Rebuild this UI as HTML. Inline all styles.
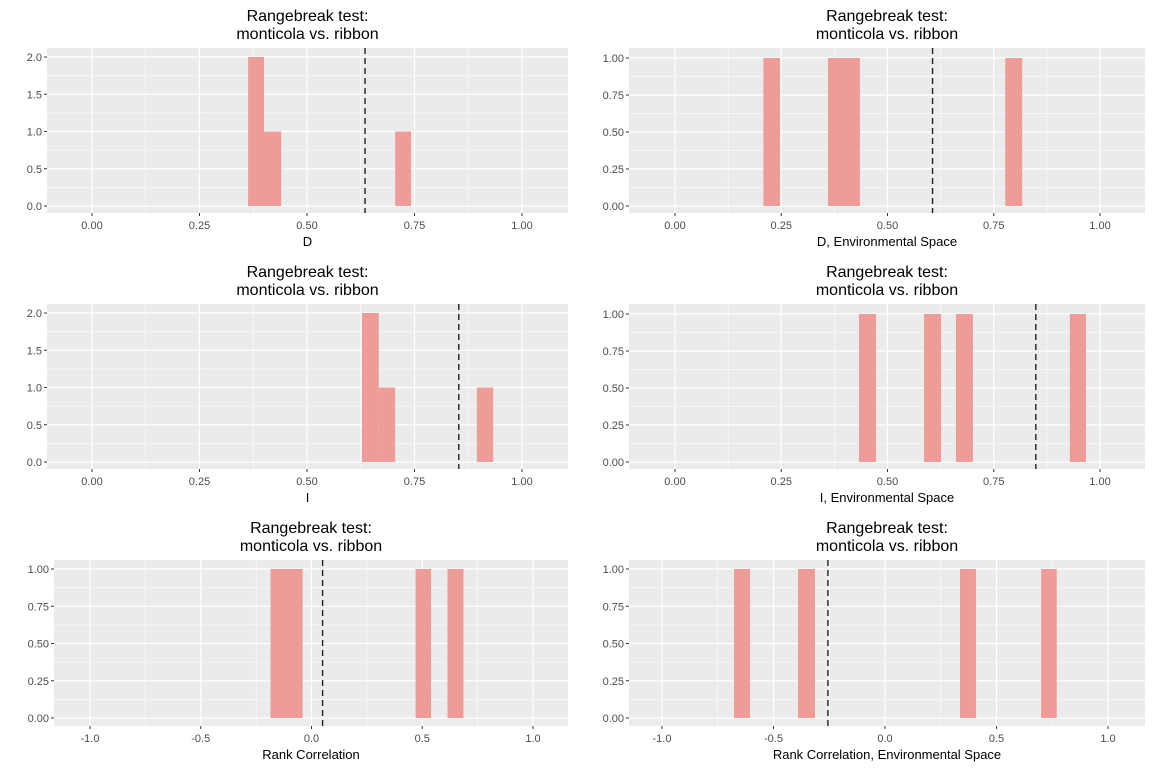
<!DOCTYPE html>
<html><head><meta charset="utf-8"><style>
body{margin:0;background:#fff;width:1152px;height:768px;overflow:hidden}
svg{font-family:"Liberation Sans",sans-serif}
</style></head><body>
<svg id="c" width="1152" height="768"></svg>
<script>
// Panel data: bin start, bin end, count
const p1Start=[0.363,0.400,0.705]; const p1End=[0.400,0.440,0.742]; const p1Count=[2,1,1]; const p1Obs=0.635;
const p2Start=[0.208,0.360,0.777]; const p2End=[0.247,0.435,0.817]; const p2Count=[1,1,1]; const p2Obs=0.606;
const p3Start=[0.628,0.667,0.895]; const p3End=[0.667,0.705,0.933]; const p3Count=[2,1,1]; const p3Obs=0.853;
const p4Start=[0.433,0.586,0.661,0.929]; const p4End=[0.473,0.626,0.701,0.967]; const p4Count=[1,1,1,1]; const p4Obs=0.849;
const p5Start=[-0.185,0.47,0.614]; const p5End=[-0.04,0.54,0.686]; const p5Count=[1,1,1]; const p5Obs=0.05;
const p6Start=[-0.677,-0.39,0.336,0.70]; const p6End=[-0.605,-0.314,0.408,0.77]; const p6Count=[1,1,1,1]; const p6Obs=-0.256;
const ticks01=[0,0.25,0.5,0.75,1]; const ticks01Lab=["0.00","0.25","0.50","0.75","1.00"];
const ticksR=[-1,-0.5,0,0.5,1]; const ticksRLab=["-1.0","-0.5","0.0","0.5","1.0"];
const yT2=[0,0.5,1,1.5,2]; const yT2Lab=["0.0","0.5","1.0","1.5","2.0"];
const yT1=[0,0.25,0.5,0.75,1]; const yT1Lab=["0.00","0.25","0.50","0.75","1.00"];

const svg=document.getElementById('c');const NS="http://www.w3.org/2000/svg";
function mk(t,a,p){const e=document.createElementNS(NS,t);for(const k in a)e.setAttribute(k,a[k]);(p||svg).appendChild(e);return e;}
function panel(id,box,xt,xl,x0px,x1px,x0v,x1v,yt,yl,ymax,y0px,ymaxpx,st,en,ct,obs,xtitle){
 const g=mk('g',{});
 
 
 const [L,T,R,B]=box;
 const sx=v=>x0px+(v-x0v)*(x1px-x0px)/(x1v-x0v);
 const sy=v=>y0px-(v/ymax)*(y0px-ymaxpx);
 const bg=mk('rect',{x:L,y:T,width:R-L,height:B-T,fill:'#EBEBEB'},g);
 
 for(let i=0;i<xt.length-1;i++){const m=sx((xt[i]+xt[i+1])/2);mk('line',{x1:m,x2:m,y1:T,y2:B,stroke:'#fff','stroke-width':0.6},g);}
 mk('line',{x1:sx(xt[0]-(xt[1]-xt[0])/2),x2:sx(xt[0]-(xt[1]-xt[0])/2),y1:T,y2:B,stroke:'#fff','stroke-width':0.6},g);
 mk('line',{x1:sx(xt[xt.length-1]+(xt[1]-xt[0])/2),x2:sx(xt[xt.length-1]+(xt[1]-xt[0])/2),y1:T,y2:B,stroke:'#fff','stroke-width':0.6},g);
 for(let i=0;i<yt.length-1;i++){const m=sy((yt[i]+yt[i+1])/2);mk('line',{x1:L,x2:R,y1:m,y2:m,stroke:'#fff','stroke-width':0.6},g);}
 xt.forEach((v,i)=>{const x=sx(v);mk('line',{x1:x,x2:x,y1:T,y2:B,stroke:'#fff','stroke-width':1.2},g);
  mk('line',{x1:x,x2:x,y1:B,y2:B+3,stroke:'#333','stroke-width':1},g);
  const t=mk('text',{x:x,y:B+16,'text-anchor':'middle','font-size':11,fill:'#4D4D4D'},g);t.textContent=xl[i];
  });
 yt.forEach((v,i)=>{const y=sy(v);mk('line',{x1:L,x2:R,y1:y,y2:y,stroke:'#fff','stroke-width':1.2},g);
  mk('line',{x1:L-3,x2:L,y1:y,y2:y,stroke:'#333','stroke-width':1},g);
  const t=mk('text',{x:L-5,y:y+4,'text-anchor':'end','font-size':11,fill:'#4D4D4D'},g);t.textContent=yl[i];
  });
 st.forEach((s,i)=>{const b=mk('rect',{x:sx(s),y:sy(ct[i]),width:sx(en[i])-sx(s),height:sy(0)-sy(ct[i]),fill:'#EE9C98'},g);
  });
 const ol=mk('line',{x1:sx(obs),x2:sx(obs),y1:T,y2:B,stroke:'#222','stroke-width':1.4,'stroke-dasharray':'6,4'},g);
 
 const cx=(L+R)/2;
 const t1=mk('text',{x:cx,y:T-27,'text-anchor':'middle','font-size':16,fill:'#000'},g);t1.textContent='Rangebreak test:';
 
 const t2=mk('text',{x:cx,y:T-9,'text-anchor':'middle','font-size':16,fill:'#000'},g);t2.textContent='monticola vs. ribbon';
 
 const xtl=mk('text',{x:cx,y:B+33,'text-anchor':'middle','font-size':13,fill:'#000'},g);xtl.textContent=xtitle;
 
}
panel('panel-d',[47,48,568,213],ticks01,ticks01Lab,92,522,0,1,yT2,yT2Lab,2,206,57,p1Start,p1End,p1Count,p1Obs,'D');
panel('panel-d-env',[629,48,1145,213],ticks01,ticks01Lab,675,1100,0,1,yT1,yT1Lab,1,206,58,p2Start,p2End,p2Count,p2Obs,'D, Environmental Space');
panel('panel-i',[47,304,568,469],ticks01,ticks01Lab,92,522,0,1,yT2,yT2Lab,2,462,313,p3Start,p3End,p3Count,p3Obs,'I');
panel('panel-i-env',[629,304,1145,469],ticks01,ticks01Lab,675,1100,0,1,yT1,yT1Lab,1,462,314,p4Start,p4End,p4Count,p4Obs,'I, Environmental Space');
panel('panel-rank',[54,560,568,726],ticksR,ticksRLab,90,533,-1,1,yT1,yT1Lab,1,718,569,p5Start,p5End,p5Count,p5Obs,'Rank Correlation');
panel('panel-rank-env',[629,560,1145,726],ticksR,ticksRLab,662,1108,-1,1,yT1,yT1Lab,1,718,569,p6Start,p6End,p6Count,p6Obs,'Rank Correlation, Environmental Space');
</script>
</body></html>
